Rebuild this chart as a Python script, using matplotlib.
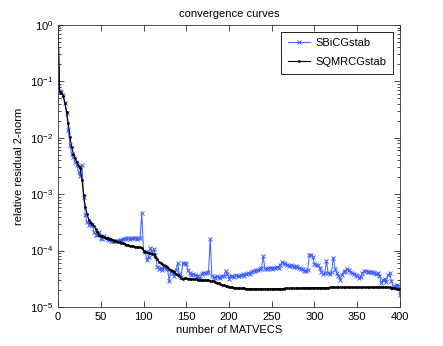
import numpy as np
import matplotlib
matplotlib.use("Agg")
import matplotlib.pyplot as plt
from matplotlib.ticker import LogLocator, NullFormatter

plt.rcParams['font.family'] = ['Liberation Sans', 'DejaVu Sans']
plt.rcParams['mathtext.default'] = 'regular'

# residual history, sampled every 2 MATVECS (0..400)
matvecs = list(range(0, 401, 2))

sbicgstab = [
    1.0, 0.068, 0.066, 0.058, 0.042, 0.028, 0.014, 0.0075, 0.0052, 0.0045,
    0.0038, 0.0033, 0.0025, 0.0021, 0.0033, 0.0009, 0.00042, 0.00032, 0.00029, 0.00030,
    0.00029, 0.00021, 0.00019, 0.00019, 0.00021, 0.00017, 0.00016, 0.00018, 1.65e-4, 1.6e-4,
    1.55e-4, 1.5e-4, 1.5e-4, 1.48e-4, 1.5e-4, 1.45e-4, 1.52e-4, 1.55e-4, 1.6e-4, 1.63e-4,
    1.65e-4, 1.65e-4, 1.63e-4, 1.66e-4, 1.65e-4, 1.65e-4, 1.63e-4, 1.65e-4, 1.65e-4, 4.6e-4,
    1.0e-4, 9.5e-5, 6.8e-5, 7.8e-5, 1.1e-4, 9.5e-5, 1.05e-4, 8.5e-5, 5.2e-5, 4.8e-5,
    5.0e-5, 4.6e-5, 5.2e-5, 5.0e-5, 4.8e-5, 2.9e-5, 4.2e-5, 4.0e-5, 3.6e-5, 4.5e-5,
    6.0e-5, 3.8e-5, 3.4e-5, 6.0e-5, 6.0e-5, 5.7e-5, 4.5e-5, 4.0e-5, 3.7e-5, 3.8e-5,
    3.7e-5, 3.6e-5, 3.5e-5, 3.1e-5, 3.8e-5, 4.0e-5, 4.0e-5, 4.0e-5, 4.1e-5, 1.6e-4,
    3.5e-5, 3.4e-5, 3.3e-5, 3.5e-5, 3.4e-5, 3.3e-5, 3.6e-5, 3.5e-5, 4.3e-5, 3.8e-5,
    3.2e-5, 3.6e-5, 3.5e-5, 3.4e-5, 3.7e-5, 3.6e-5, 3.5e-5, 3.7e-5, 3.8e-5, 3.6e-5,
    3.9e-5, 4.0e-5, 3.8e-5, 4.1e-5, 4.3e-5, 4.4e-5, 4.6e-5, 4.5e-5, 4.8e-5, 4.9e-5,
    8.0e-5, 4.8e-5, 4.7e-5, 4.9e-5, 5.0e-5, 4.8e-5, 5.0e-5, 5.0e-5, 5.2e-5, 5.0e-5,
    5.5e-5, 6.2e-5, 6.0e-5, 5.7e-5, 5.5e-5, 5.4e-5, 5.6e-5, 5.3e-5, 5.2e-5, 5.4e-5,
    5.1e-5, 5.0e-5, 4.8e-5, 4.7e-5, 4.4e-5, 4.3e-5, 4.6e-5, 8.5e-5, 8.5e-5, 7.8e-5,
    5.8e-5, 5.6e-5, 5.5e-5, 5.0e-5, 4.1e-5, 3.8e-5, 4.0e-5, 6.6e-5, 4.0e-5, 3.8e-5,
    4.2e-5, 7.5e-5, 4.8e-5, 4.0e-5, 3.6e-5, 3.0e-5, 3.7e-5, 4.2e-5, 4.4e-5, 4.8e-5,
    4.6e-5, 4.2e-5, 4.0e-5, 3.9e-5, 3.7e-5, 3.5e-5, 3.3e-5, 3.4e-5, 4.0e-5, 4.3e-5,
    4.4e-5, 4.2e-5, 4.1e-5, 4.2e-5, 4.2e-5, 4.0e-5, 3.9e-5, 4.0e-5, 3.6e-5, 2.7e-5,
    3.0e-5, 3.2e-5, 2.8e-5, 3.7e-5, 4.0e-5, 2.9e-5, 2.2e-5, 2.4e-5, 2.5e-5, 2.4e-5,
    1.6e-5,
]

sqmrcgstab = [
    1.0, 0.065, 0.062, 0.055, 0.042, 0.029, 0.018, 0.0105, 0.0068, 0.0052,
    0.0043, 0.0037, 0.0032, 0.0029, 0.0018, 0.00095, 0.00060, 0.00045, 0.00035, 0.00032,
    0.00030, 0.00027, 0.00024, 0.00021, 0.00019, 1.85e-4, 1.8e-4, 1.75e-4, 1.7e-4, 1.66e-4,
    1.62e-4, 1.58e-4, 1.54e-4, 1.5e-4, 1.47e-4, 1.43e-4, 1.4e-4, 1.37e-4, 1.34e-4, 1.31e-4,
    1.28e-4, 1.25e-4, 1.23e-4, 1.21e-4, 1.19e-4, 1.17e-4, 1.16e-4, 1.15e-4, 1.14e-4, 1.12e-4,
    1.0e-4, 9.6e-5, 9.3e-5, 9.0e-5, 8.9e-5, 8.8e-5, 8.6e-5, 7.8e-5, 7.0e-5, 6.4e-5,
    6.0e-5, 5.8e-5, 5.5e-5, 5.3e-5, 5.1e-5, 4.7e-5, 4.5e-5, 4.3e-5, 4.1e-5, 3.9e-5,
    3.7e-5, 3.5e-5, 3.3e-5, 3.2e-5, 3.25e-5, 3.25e-5, 3.2e-5, 3.2e-5, 3.15e-5, 3.1e-5,
    3.1e-5, 3.1e-5, 3.0e-5, 3.0e-5, 3.0e-5, 3.0e-5, 3.0e-5, 3.0e-5, 3.0e-5, 2.95e-5,
    2.9e-5, 2.85e-5, 2.78e-5, 2.7e-5, 2.62e-5, 2.55e-5, 2.48e-5, 2.42e-5, 2.37e-5, 2.32e-5,
    2.28e-5, 2.25e-5, 2.22e-5, 2.2e-5, 2.18e-5, 2.17e-5, 2.16e-5, 2.15e-5, 2.14e-5, 2.13e-5,
    2.12e-5, 2.11e-5, 2.11e-5, 2.1e-5, 2.1e-5, 2.1e-5, 2.1e-5, 2.1e-5, 2.1e-5, 2.1e-5,
    2.1e-5, 2.1e-5, 2.1e-5, 2.1e-5, 2.1e-5, 2.1e-5, 2.1e-5, 2.11e-5, 2.11e-5, 2.11e-5,
    2.11e-5, 2.12e-5, 2.12e-5, 2.13e-5, 2.13e-5, 2.13e-5, 2.14e-5, 2.14e-5, 2.15e-5, 2.15e-5,
    2.15e-5, 2.16e-5, 2.17e-5, 2.17e-5, 2.18e-5, 2.18e-5, 2.19e-5, 2.19e-5, 2.2e-5, 2.2e-5,
    2.2e-5, 2.2e-5, 2.21e-5, 2.21e-5, 2.21e-5, 2.21e-5, 2.21e-5, 2.21e-5, 2.21e-5, 2.22e-5,
    2.22e-5, 2.22e-5, 2.22e-5, 2.22e-5, 2.22e-5, 2.22e-5, 2.22e-5, 2.22e-5, 2.22e-5, 2.22e-5,
    2.23e-5, 2.23e-5, 2.23e-5, 2.23e-5, 2.23e-5, 2.23e-5, 2.23e-5, 2.23e-5, 2.24e-5, 2.24e-5,
    2.24e-5, 2.24e-5, 2.24e-5, 2.24e-5, 2.25e-5, 2.25e-5, 2.25e-5, 2.25e-5, 2.25e-5, 2.25e-5,
    2.25e-5, 2.25e-5, 2.25e-5, 2.24e-5, 2.22e-5, 2.2e-5, 2.18e-5, 2.15e-5, 2.12e-5, 2.08e-5,
    2.05e-5,
]

fig = plt.figure(figsize=(4.43, 3.46), dpi=100)
ax = fig.add_axes([58 / 443, 1 - 307 / 346, 342 / 443, 282 / 346])

ax.semilogy(matvecs, sbicgstab, color='#3d5cff', lw=0.7, marker='x', ms=3.2, mew=0.7,
            label='SBiCGstab')
ax.semilogy(matvecs, sqmrcgstab, color='black', lw=0.8, marker='.', ms=2,
            label='SQMRCGstab')

ax.set_xlim(0, 400)
ax.set_ylim(1e-5, 1)
ax.set_xticks(range(0, 401, 50))
ax.yaxis.set_major_locator(LogLocator(base=10, numticks=10))
ax.yaxis.set_minor_locator(LogLocator(base=10, subs=np.arange(2, 10), numticks=20))
ax.yaxis.set_minor_formatter(NullFormatter())
ax.tick_params(which='both', direction='in', top=True, right=True, labelsize=8, width=0.5)
ax.tick_params(which='major', length=4)
ax.tick_params(which='minor', length=2)
for s in ax.spines.values():
    s.set_linewidth(0.6)
    s.set_color('#333333')

ax.set_title('convergence curves', fontsize=8, pad=6)
ax.set_xlabel('number of MATVECS', fontsize=8, labelpad=2)
ax.set_ylabel('relative residual 2-norm', fontsize=8, labelpad=4)

leg = ax.legend(loc='upper right', fontsize=8, numpoints=1, fancybox=False,
                framealpha=1, edgecolor='black', borderaxespad=0.6, handlelength=2.0,
                borderpad=0.6, labelspacing=0.8, handletextpad=0.5)
leg.get_frame().set_linewidth(0.6)

fig.savefig('out.png', dpi=100)
